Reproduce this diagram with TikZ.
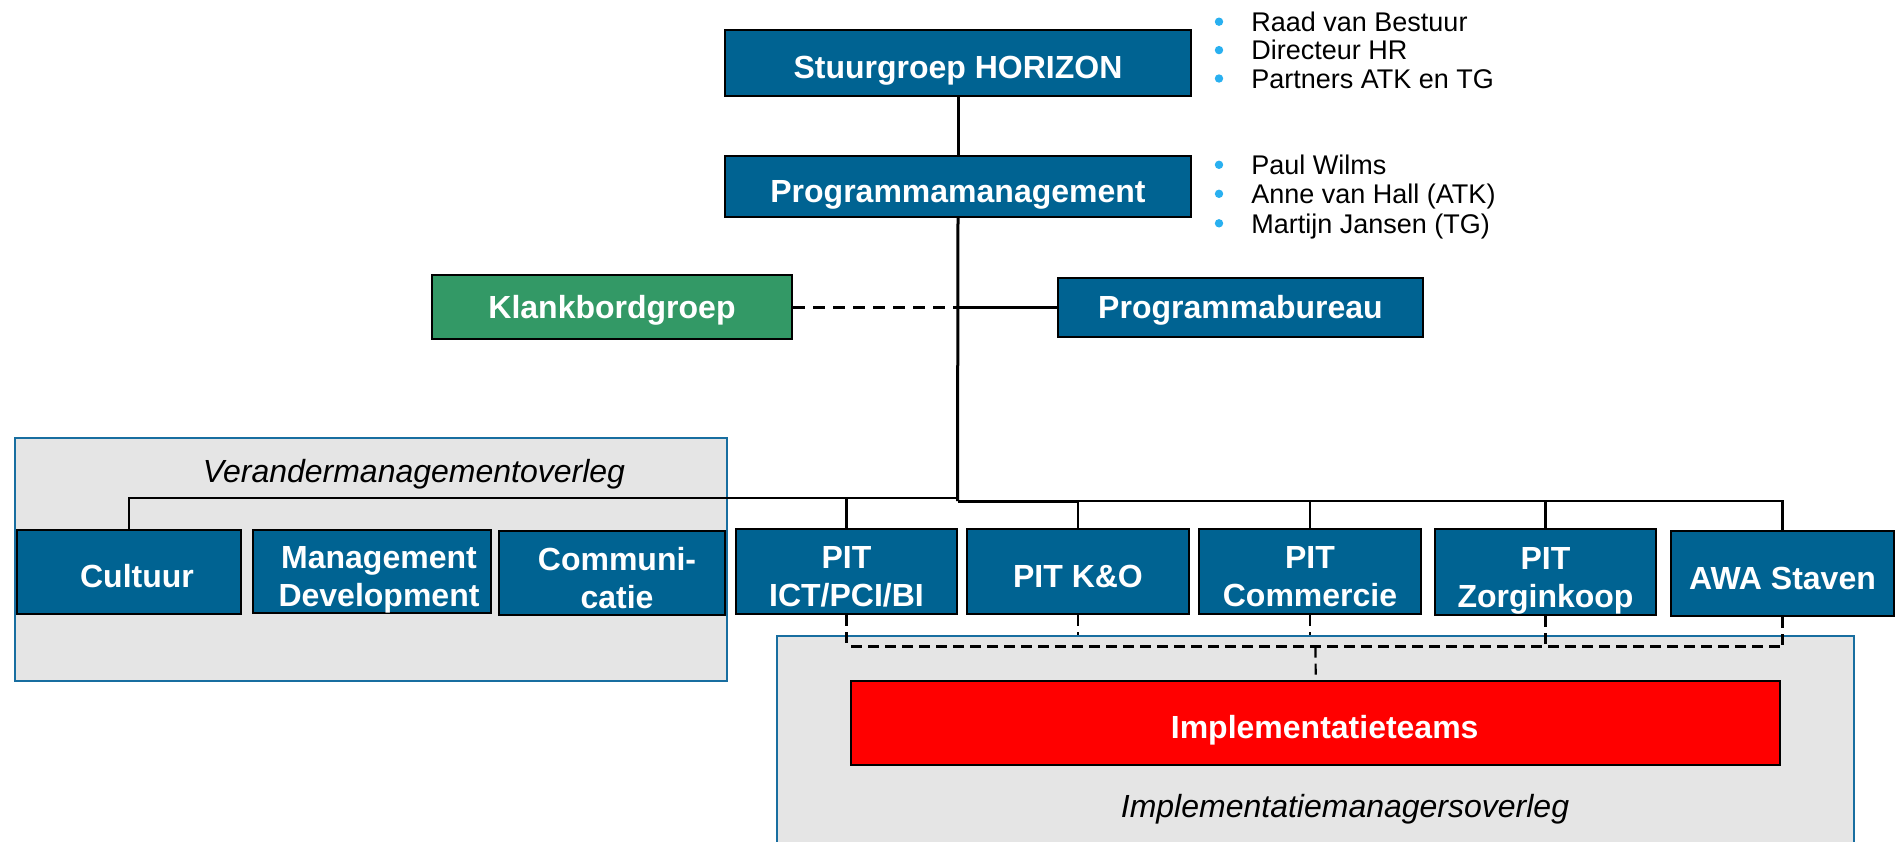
\documentclass[tikz,border=0pt]{standalone}
\usepackage{fontspec}
\setmainfont{Liberation Sans}
\definecolor{boxblue}{RGB}{0,99,146}
\definecolor{boardgreen}{RGB}{51,153,102}
\definecolor{teamred}{RGB}{255,0,0}
\definecolor{panelgray}{RGB}{229,229,229}
\definecolor{frameblue}{RGB}{24,110,160}
\definecolor{dotblue}{RGB}{41,176,240}
\newcommand{\boxfont}{\bfseries\fontsize{16}{19}\selectfont}
\newcommand{\listfont}{\fontsize{13.5}{16}\selectfont}
\newcommand{\panelfont}{\itshape\fontsize{16}{19}\selectfont}
\begin{document}
\begin{tikzpicture}[x=0.5pt,y=-0.5pt,
  orgbox/.style={draw=black,line width=1pt,fill=boxblue,text=white,font=\boxfont,
                 inner sep=0pt,align=center},
  capsmid/.style={text height=11.5pt,text depth=0pt},
  capslow/.style={text height=15.5pt,text depth=0pt},
  twolines/.style={text height=35pt,text depth=0pt},
  panel/.style={fill=panelgray,draw=frameblue,line width=1pt},
  link/.style={draw=black,line width=1.5pt},
  buslink/.style={draw=black,line width=1.2pt},
  dashlink/.style={draw=black,line width=1.1pt,dash pattern=on 5.5pt off 3pt},
  boarddash/.style={draw=black,line width=1.5pt,dash pattern=on 6pt off 4pt},
  listitem/.style={anchor=base west,inner sep=0pt,font=\listfont},
  dot/.style={fill=dotblue}]
\clip (0,0) rectangle (1896,841);
\fill[white] (0,0) rectangle (1896,841);

% group frames
\path[panel] (14.5,437.5) rectangle (726.7,680.8);
\node[font=\panelfont,anchor=base,inner sep=0pt] (vmo) at (414,482) {Verandermanagementoverleg};

% top of the hierarchy
\node[orgbox,capslow,minimum width=233pt,minimum height=33pt] (stuur) at (958,63) {Stuurgroep HORIZON};
\node[orgbox,capslow,minimum width=233pt,minimum height=30.5pt] (pm) at (958,186.5) {Programmamanagement};
\node[orgbox,capsmid,fill=boardgreen,minimum width=180pt,minimum height=32pt] (klank) at (612,307) {Klankbordgroep};
\node[orgbox,capsmid,minimum width=182.5pt,minimum height=29.5pt] (pb) at (1240.5,307) {Programmabureau};

% member lists
\foreach \y/\t [count=\i] in {31.4/Raad van Bestuur,59.8/Directeur HR,88.2/Partners ATK en TG}{
  \fill[dot] (1219,\y-9.7) circle (2.1pt);
  \node[listitem] (sg\i) at (1251,\y) {\t};
}
\foreach \y/\t [count=\i] in {174.5/Paul Wilms,203.5/Anne van Hall (ATK),233/Martijn Jansen (TG)}{
  \fill[dot] (1219,\y-9.7) circle (2.1pt);
  \node[listitem] (pmm\i) at (1251,\y) {\t};
}

% second row
\node[orgbox,capslow,minimum width=112pt,minimum height=42pt] (cult) at (129,572) {\hspace*{8pt}Cultuur};
\node[orgbox,twolines,minimum width=119pt,minimum height=41.5pt] (md) at (372,571.5) {\hspace*{7pt}Management\\\hspace*{7pt}Development};
\node[orgbox,twolines,minimum width=113pt,minimum height=42pt] (comm) at (612,573) {\hspace*{5pt}Communi-\\\hspace*{5pt}catie};
\node[orgbox,twolines,minimum width=110.5pt,minimum height=42.5pt] (ict) at (846.5,571.5) {PIT\\ICT/PCI/BI};
\node[orgbox,capslow,minimum width=111pt,minimum height=42.5pt] (ko) at (1078,571.5) {PIT K\&O};
\node[orgbox,twolines,minimum width=111pt,minimum height=42.5pt] (pcom) at (1310,571.5) {PIT\\Commercie};
\node[orgbox,twolines,minimum width=110.5pt,minimum height=43pt] (zorg) at (1545.5,572) {PIT\\Zorginkoop};
\node[orgbox,capslow,minimum width=111.5pt,minimum height=42.5pt] (awa) at (1782.5,573.5) {AWA Staven};

% junction points
\coordinate (hubL) at (957.5,498);
\coordinate (hubR) at (957.5,501);
\coordinate (kj) at (957.5,307);
\coordinate (dl) at (851,646.5);
\coordinate (dr) at (1783,646.5);
\coordinate (dc) at (1315.5,646.5);
\coordinate (dd1) at (1420,646.5);
\coordinate (dd2) at (1543,646.5);

% solid reporting lines
\draw[link] (stuur.south) -- (pm.north);
\draw[link] (pm.south) -- (hubR);
\draw[boarddash] (klank.east) -- (kj);
\draw[link] (kj) -- (pb.west);
\draw[buslink] (hubL) -| (cult.north);
\draw[buslink] (ict.north) -- (ict.north |- hubL);
\draw[link] (hubR) -- (ko.north |- hubR);
\draw[buslink] (hubR) -| (awa.north);
\draw[buslink] (ko.north) -- (ko.north |- hubR);
\draw[buslink] (pcom.north) -- (pcom.north |- hubR);
\draw[buslink] (zorg.north) -- (zorg.north |- hubR);

% dashed links to the implementation teams
\draw[dashlink] (ko.south) -- (ko.south |- dl);
\draw[dashlink] (pcom.south) -- (pcom.south |- dl);
\path[panel] (776.5,636) rectangle (1853.7,850);
\node[orgbox,capslow,fill=teamred,minimum width=464.5pt,minimum height=42pt] (impl) at (1315.7,722.5) {\hspace*{9pt}Implementatieteams};
\node[font=\panelfont,anchor=base,inner sep=0pt] (imo) at (1345,817) {Implementatiemanagersoverleg};
\draw[dashlink] (ict.south) -- (ict.south |- dl);
\draw[dashlink] (zorg.south) -- (zorg.south |- dl);
\draw[dashlink] (awa.south) -- (awa.south |- dl);
\draw[dashlink] (dl) -- (dr);
\draw[dashlink,dash phase=4pt] (dd1) -- (dd2);
\draw[dashlink] (dc) -- (impl.north);
\end{tikzpicture}
\end{document}
